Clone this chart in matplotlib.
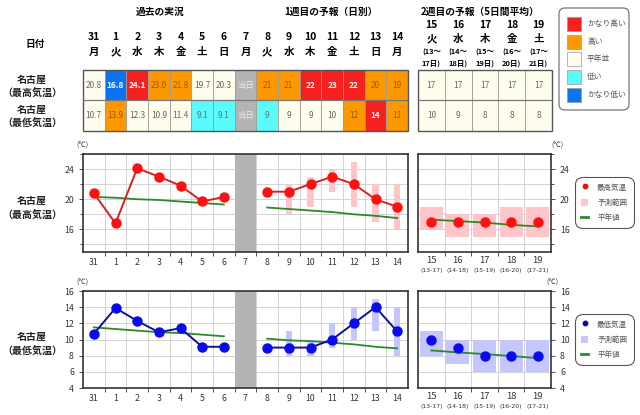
import numpy as np
import matplotlib.pyplot as plt
import matplotlib.transforms as mtransforms
from matplotlib.patches import Rectangle, FancyBboxPatch, Patch
from matplotlib.lines import Line2D

plt.rcParams['font.family'] = ['Noto Sans CJK JP', 'DejaVu Sans']

W, H = 640, 415
nan = np.nan

# ---- data ----
days = ['31', '1', '2', '3', '4', '5', '6', '7', '8', '9', '10', '11', '12', '13', '14']
weekdays = ['月', '火', '水', '木', '金', '土', '日', '月', '火', '水', '木', '金', '土', '日', '月']
wk2_days = ['15', '16', '17', '18', '19']
wk2_weekdays = ['火', '水', '木', '金', '土']
wk2_from = ['13', '14', '15', '16', '17']
wk2_to = ['17', '18', '19', '20', '21']

# daily max / min (index 7 = today, no value)
max_temp = [20.8, 16.8, 24.1, 23.0, 21.8, 19.7, 20.3, nan, 21, 21, 22, 23, 22, 20, 19]
min_temp = [10.7, 13.9, 12.3, 10.9, 11.4, 9.1, 9.1, nan, 9, 9, 9, 10, 12, 14, 11]
n_obs = 7

max_lo = [nan, nan, nan, nan, nan, nan, nan, nan, nan, 18, 19, 21, 19, 17, 16]
max_hi = [nan, nan, nan, nan, nan, nan, nan, nan, nan, 22, 23, 24, 25, 22, 22]
min_lo = [nan, nan, nan, nan, nan, nan, nan, nan, nan, 8, 8, 9, 10, 11, 8]
min_hi = [nan, nan, nan, nan, nan, nan, nan, nan, nan, 11, 10, 12, 14, 15, 14]

max_norm = [20.3, 20.2, 20.0, 19.9, 19.7, 19.5, 19.3, nan, 18.9, 18.7, 18.5, 18.3, 18.0, 17.8, 17.5]
min_norm = [11.5, 11.3, 11.1, 10.9, 10.8, 10.6, 10.4, nan, 10.1, 9.9, 9.8, 9.6, 9.4, 9.1, 8.9]

# 2nd week (5-day mean)
wk2_max = [17, 17, 17, 17, 17]
wk2_max_lo = [16, 15, 15, 15, 15]
wk2_max_hi = [19, 18, 18, 19, 19]
wk2_max_norm = [17.3, 17.1, 16.9, 16.6, 16.4]
wk2_min = [10, 9, 8, 8, 8]
wk2_min_lo = [8, 7, 6, 6, 6]
wk2_min_hi = [11, 10, 10, 10, 10]
wk2_min_norm = [8.65, 8.4, 8.2, 7.95, 7.7]

# class of each table cell
max_cat = ['n', 'vl', 'vh', 'h', 'h', 'n', 'n', 't', 'h', 'h', 'vh', 'vh', 'vh', 'h', 'h']
min_cat = ['n', 'h', 'n', 'n', 'n', 'l', 'l', 't', 'l', 'n', 'n', 'n', 'h', 'vh', 'h']
wk2_max_cat = ['n', 'n', 'n', 'n', 'n']
wk2_min_cat = ['n', 'n', 'n', 'n', 'n']

cat_names = ['かなり高い', '高い', '平年並', '低い', 'かなり低い']
cat_keys = ['vh', 'h', 'n', 'l', 'vl']

# ---- styles ----
cell_fc = {'vh': '#f52020', 'h': '#fd9800', 'n': '#fffdee', 'l': '#5cfbfb',
           'vl': '#0a74f2', 't': '#b4b4b4'}
cell_tc = {'vh': 'white', 'h': '#9a5a10', 'n': '#666666', 'l': '#557777',
           'vl': 'white', 't': '#eeeeee'}
pink = '#ffc6ca'
lav = '#c6c6ff'
green = '#2a8a2a'
grid_c = '#cccccc'
tick_c = '#333333'


def fig_rect(x0, y0, x1, y1):
    return [x0 / W, 1 - y1 / H, (x1 - x0) / W, (y1 - y0) / H]


fig = plt.figure(figsize=(W / 100, H / 100), dpi=100)

# overlay axes in pixel units for free text / legend boxes
ov = fig.add_axes([0, 0, 1, 1])
ov.set_xlim(0, W)
ov.set_ylim(H, 0)
ov.axis('off')

ov.text(160, 12, '過去の実況', ha='center', va='center', fontsize=7, fontweight='bold')
ov.text(331, 12, '1週目の予報（日別）', ha='center', va='center', fontsize=7, fontweight='bold')
ov.text(480, 12, '2週目の予報（5日間平均）', ha='center', va='center', fontsize=7, fontweight='bold')
ov.text(35, 44, '日付', ha='center', va='center', fontsize=7, fontweight='bold')
for y, txt in [(80, '名古屋'), (93, '（最高気温）'), (110, '名古屋'), (123, '（最低気温）'),
               (201, '名古屋'), (215, '（最高気温）'), (337, '名古屋'), (351, '（最低気温）')]:
    ov.text(32, y, txt, ha='center', va='center', fontsize=7.2, fontweight='bold', color='#222222')

# top colour legend
ov.add_patch(FancyBboxPatch((559, 8), 70, 102, boxstyle='round,pad=0,rounding_size=6',
                            fc='white', ec='#777777', lw=0.9))
for k, (key, name) in enumerate(zip(cat_keys, cat_names)):
    cy = 24 + k * 17.7
    ov.add_patch(Rectangle((567, cy - 7), 14, 14, fc=cell_fc[key], ec='#999999', lw=0.5))
    ov.text(587, cy, name, ha='left', va='center', fontsize=5.6, color='#555555')

for x, y in [(82, 146), (557, 146), (82, 283), (552, 283)]:
    ov.text(x, y, '(℃)', ha='center', va='center', fontsize=5.3, color='#333333')


def draw_table(ax, rows, cats_rows, ncol):
    ax.set_xlim(-0.5, ncol - 0.5)
    ax.set_ylim(2, 0)
    ax.axis('off')
    for r, (vals, cats) in enumerate(zip(rows, cats_rows)):
        for i, (v, c) in enumerate(zip(vals, cats)):
            ax.add_patch(Rectangle((i - 0.5, r), 1, 1, fc=cell_fc[c], ec='#a09a90', lw=0.6))
            bold = c in ('vh', 'vl')
            ax.text(i, r + 0.5, v, ha='center', va='center', fontsize=6,
                    color=cell_tc[c], fontweight='bold' if bold else 'normal')
    ax.add_patch(Rectangle((-0.5, 0), ncol, 2, fc='none', ec='#555555', lw=1.0, clip_on=False))
    ax.plot([-0.5, ncol - 0.5], [1, 1], color='#777777', lw=0.9, clip_on=False)


def fmt(vals):
    out = []
    for i, v in enumerate(vals):
        if np.isnan(v):
            out.append('当日')
        elif i < n_obs:
            out.append('%.1f' % v)
        else:
            out.append('%d' % v)
    return out


# ---- tables ----
t1 = fig.add_axes(fig_rect(83, 70, 408, 131))
draw_table(t1, [fmt(max_temp), fmt(min_temp)], [max_cat, min_cat], len(days))
for i, (d, w) in enumerate(zip(days, weekdays)):
    t1.text(i, -1.08, d, ha='center', va='center', fontsize=7.5, fontweight='bold', clip_on=False)
    t1.text(i, -0.58, w, ha='center', va='center', fontsize=7.5, fontweight='bold', clip_on=False)

t2 = fig.add_axes(fig_rect(418, 70, 552, 131))
draw_table(t2, [['%d' % v for v in wk2_max], ['%d' % v for v in wk2_min]],
           [wk2_max_cat, wk2_min_cat], len(wk2_days))
for i in range(len(wk2_days)):
    t2.text(i, -1.48, wk2_days[i], ha='center', va='center', fontsize=7.5, fontweight='bold', clip_on=False)
    t2.text(i, -1.02, wk2_weekdays[i], ha='center', va='center', fontsize=7.5, fontweight='bold', clip_on=False)
    t2.text(i, -0.58, '(' + wk2_from[i] + '～', ha='center', va='center', fontsize=5.4, fontweight='bold', clip_on=False)
    t2.text(i, -0.22, wk2_to[i] + '日)', ha='center', va='center', fontsize=5.4, fontweight='bold', clip_on=False)


# ---- charts ----
def style_axes(ax, ncol, ylim, ylab_step, side):
    ax.set_xlim(-0.5, ncol - 0.5)
    ax.set_ylim(*ylim)
    ax.set_xticks(np.arange(0.5, ncol - 1, 1))
    ax.set_xticklabels([])
    ax.set_xticks(np.arange(ncol), minor=True)
    ax.set_yticks(np.arange(ylim[0] + (ylim[0] % 2), ylim[1] + 0.1, 2), minor=True)
    yt = [v for v in np.arange(4, 30, ylab_step) if ylim[0] <= v <= ylim[1]]
    ax.set_yticks(yt)
    ax.set_yticklabels(['%d' % v for v in yt])
    ax.grid(True, which='major', axis='x', color=grid_c, lw=0.6)
    ax.grid(True, which='minor', axis='y', color=grid_c, lw=0.6)
    ax.grid(True, which='major', axis='y', color=grid_c, lw=0.6)
    ax.set_axisbelow(True)
    ax.tick_params(which='both', labelsize=6.3, colors=tick_c, length=3, width=0.6, direction='out')
    ax.tick_params(axis='x', which='minor', length=0, pad=4)
    ax.tick_params(axis='y', which='minor', length=2)
    if side == 'right':
        ax.yaxis.tick_right()
        ax.tick_params(axis='y', which='both', left=False, right=True)
    for s in ax.spines.values():
        s.set_linewidth(1.2)
        s.set_color('#333333')


x_day = np.arange(len(days))
x_wk2 = np.arange(len(wk2_days))


def draw_daily(ax, vals, lo, hi, norm, band_c, line_c, mark_c, ylim, step):
    style_axes(ax, len(days), ylim, step, 'left')
    ax.set_xticklabels(days, minor=True)
    ax.axvspan(6.5, 7.5, color='#b4b4b4', zorder=1.5, lw=0)
    lo = np.array(lo)
    hi = np.array(hi)
    ok = ~np.isnan(lo)
    ax.bar(x_day[ok], hi[ok] - lo[ok], bottom=lo[ok], width=0.28, color=band_c, zorder=2)
    ax.plot(x_day, norm, color=green, lw=1.3, zorder=3)
    ax.plot(x_day, vals, color=line_c, lw=1.4, marker='o', ms=6.5, mfc=mark_c, mec=mark_c, zorder=4)


def draw_week2(ax, vals, lo, hi, norm, band_c, line_c, mark_c, ylim, step):
    style_axes(ax, len(wk2_days), ylim, step, 'right')
    ax.set_xticklabels(wk2_days, minor=True)
    ax.tick_params(axis='x', which='minor', labelsize=6.8, pad=3)
    trans = mtransforms.blended_transform_factory(ax.transData, ax.transAxes)
    for i in range(len(wk2_days)):
        ax.text(i, -0.19, '(%s-%s)' % (wk2_from[i], wk2_to[i]), transform=trans, ha='center',
                va='center', fontsize=4.4, color=tick_c, family='DejaVu Sans')
    lo = np.array(lo)
    hi = np.array(hi)
    ax.bar(x_wk2, hi - lo, bottom=lo, width=0.86, color=band_c, zorder=2)
    ax.plot(x_wk2, norm, color=green, lw=1.3, zorder=3)
    ax.plot(x_wk2, vals, ls='none', marker='o', ms=6.5, mfc=mark_c, mec=mark_c, zorder=4)


a1 = fig.add_axes(fig_rect(83, 154, 408, 252))
draw_daily(a1, max_temp, max_lo, max_hi, max_norm, pink, '#d42222', '#ff1010', (13, 26), 4)
a2 = fig.add_axes(fig_rect(418, 154, 551, 252))
draw_week2(a2, wk2_max, wk2_max_lo, wk2_max_hi, wk2_max_norm, pink, '#d42222', '#ff1010', (13, 26), 4)

a3 = fig.add_axes(fig_rect(83, 291, 408, 388))
draw_daily(a3, min_temp, min_lo, min_hi, min_norm, lav, '#101099', '#0a0aee', (4, 16), 2)
a4 = fig.add_axes(fig_rect(418, 291, 551, 388))
draw_week2(a4, wk2_min, wk2_min_lo, wk2_min_hi, wk2_min_norm, lav, '#101099', '#0a0aee', (4, 16), 2)


def chart_legend(top, label, mark_c, band_c):
    handles = [Line2D([], [], ls='none', marker='o', ms=3.2, mfc=mark_c, mec=mark_c),
               Patch(fc=band_c, ec='none'),
               Line2D([], [], color=green, lw=2)]
    lg = fig.legend(handles, [label, '予測範囲', '平年値'], loc='upper left',
                    bbox_to_anchor=(575 / W, 1 - top / H), fontsize=5.4, handlelength=0.9,
                    handleheight=1.1, handletextpad=1.2, labelspacing=0.95, borderpad=0.85,
                    borderaxespad=0, fancybox=True, framealpha=1, edgecolor='#555555')
    for t in lg.get_texts():
        t.set_color('#555555')
    lg.get_frame().set_linewidth(0.8)
    lg.get_frame().set_boxstyle('round,pad=0,rounding_size=1.0')


chart_legend(177, '最高気温', '#e01010', pink)
chart_legend(314, '最低気温', '#0a0aa0', lav)

fig.savefig('out.png', dpi=100)
